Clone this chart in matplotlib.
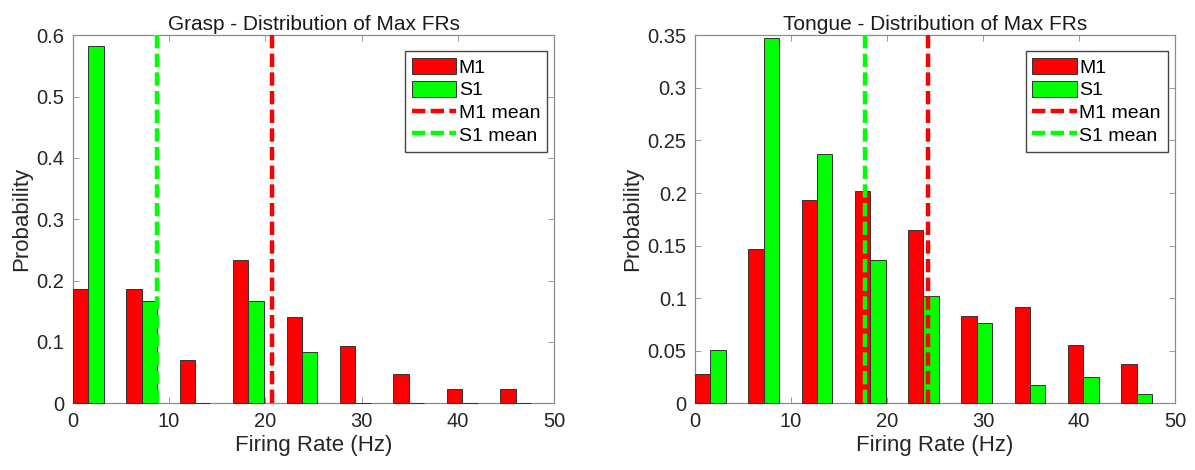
import numpy as np
import matplotlib
matplotlib.use("Agg")
import matplotlib.pyplot as plt

plt.rcParams['font.family'] = ['Liberation Sans', 'DejaVu Sans']

# Histogram bin centres (Hz), shared by both tasks
bin_centers = [1.6, 7.15, 12.7, 18.25, 23.8, 29.35, 34.9, 40.45, 46.0]

# Grasp task: probability of max firing rate per bin
grasp_m1 = [0.186, 0.186, 0.070, 0.233, 0.140, 0.093, 0.047, 0.023, 0.023]
grasp_s1 = [0.583, 0.167, 0.0, 0.167, 0.083, 0.0, 0.0, 0.0, 0.0]
grasp_m1_mean = 20.7
grasp_s1_mean = 8.8

# Tongue task
tongue_m1 = [0.0275, 0.147, 0.193, 0.202, 0.165, 0.083, 0.092, 0.055, 0.037]
tongue_s1 = [0.051, 0.347, 0.237, 0.136, 0.102, 0.076, 0.017, 0.025, 0.0085]
tongue_m1_mean = 24.3
tongue_s1_mean = 17.7

titles = ["Grasp - Distribution of Max FRs", "Tongue - Distribution of Max FRs"]
y_limits = [0.6, 0.35]
y_ticks = [[0, 0.1, 0.2, 0.3, 0.4, 0.5, 0.6],
           [0, 0.05, 0.1, 0.15, 0.2, 0.25, 0.3, 0.35]]
y_ticklabels = [["0", "0.1", "0.2", "0.3", "0.4", "0.5", "0.6"],
                ["0", "0.05", "0.1", "0.15", "0.2", "0.25", "0.3", "0.35"]]

RED = (1, 0, 0)
GREEN = (0, 1, 0)
bar_w = 1.6

fig = plt.figure(figsize=(11.95, 4.70), dpi=100)
axes = [fig.add_axes([72.7 / 1195, 1 - 403.3 / 470, 481.6 / 1195, 368 / 470]),
        fig.add_axes([695 / 1195, 1 - 403.3 / 470, 480 / 1195, 368 / 470])]

datasets = [(grasp_m1, grasp_s1, grasp_m1_mean, grasp_s1_mean),
            (tongue_m1, tongue_s1, tongue_m1_mean, tongue_s1_mean)]

x = np.array(bin_centers)
for i, (ax, (m1, s1, m1_mean, s1_mean)) in enumerate(zip(axes, datasets)):
    b1 = ax.bar(x - bar_w / 2, m1, width=bar_w, color=RED, edgecolor='#333333',
                linewidth=0.7, label='M1', zorder=2.6, clip_on=False)
    b2 = ax.bar(x + bar_w / 2, s1, width=bar_w, color=GREEN, edgecolor='#333333',
                linewidth=0.7, label='S1', zorder=2.6, clip_on=False)
    l1, = ax.plot([m1_mean, m1_mean], [0, 1], transform=ax.get_xaxis_transform(),
                  color=RED, linewidth=3.2, dashes=(3.0, 1.2), label='M1 mean',
                  zorder=3)
    l2, = ax.plot([s1_mean, s1_mean], [0, 1], transform=ax.get_xaxis_transform(),
                  color=GREEN, linewidth=3.2, dashes=(3.0, 1.2), label='S1 mean',
                  zorder=3)

    ax.set_xlim(0, 50)
    ax.set_ylim(0, y_limits[i])
    ax.set_xticks([0, 10, 20, 30, 40, 50])
    ax.set_yticks(y_ticks[i])
    ax.set_yticklabels(y_ticklabels[i])
    ax.tick_params(direction='in', length=4, width=0.7, colors='#999999',
                   labelcolor='#262626', labelsize=14.5, top=True, right=True,
                   pad=6)
    for sp in ax.spines.values():
        sp.set_color('#8c8c8c')
        sp.set_linewidth(0.9)
    ax.set_title(titles[i], fontsize=15, color='#1a1a1a', pad=4)
    ax.set_xlabel('Firing Rate (Hz)', fontsize=16, color='#262626', labelpad=3)
    ax.set_ylabel('Probability', fontsize=16, color='#262626', labelpad=3)

    leg = ax.legend(handles=[b1, b2, l1, l2], loc='upper right',
                    bbox_to_anchor=(0.985, 0.957),
                    fontsize=14, fancybox=False, framealpha=1,
                    edgecolor='#444444', handlelength=2.3, handleheight=0.9,
                    handletextpad=0.12, borderpad=0.35, labelspacing=0.2,
                    borderaxespad=0.0)
    leg.get_frame().set_linewidth(1.0)
    leg.set_zorder(5)

fig.savefig('out.png', dpi=100)
